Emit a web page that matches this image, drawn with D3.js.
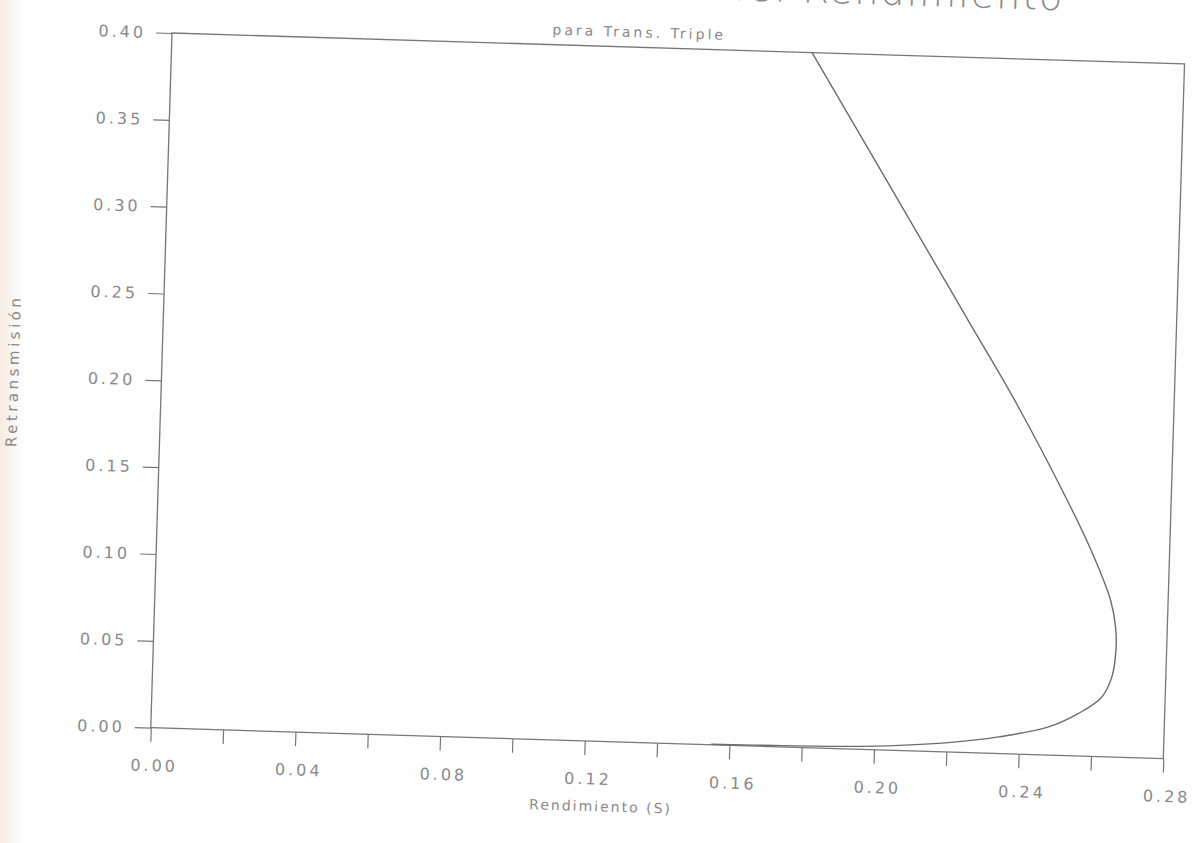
<!DOCTYPE html>
<html>
<head>
<meta charset="utf-8">
<script src="https://cdn.jsdelivr.net/npm/d3@7"></script>
<style>
  html, body { margin: 0; padding: 0; background: #fefefe; }
  svg { display: block; }
  text { font-family: "DejaVu Sans", sans-serif; fill: #8a8a8a; }
</style>
</head>
<body>
<svg id="chart" width="1192" height="843"></svg>
<script>
// Throughput (S) against retransmission rate, triple transmission
const rendimiento = [0.155, 0.175, 0.193, 0.207, 0.222, 0.2343, 0.248, 0.2562, 0.2625, 0.2651,
                     0.2660, 0.2657, 0.2641, 0.2583, 0.2508, 0.2359, 0.2223, 0.2088, 0.177];
const retransmision = [0.0003, 0.0008, 0.0015, 0.003, 0.0058, 0.0096, 0.0162, 0.0245, 0.0344, 0.0461,
                       0.0616, 0.0749, 0.0902, 0.1186, 0.1488, 0.2036, 0.249, 0.294, 0.400];

const xTicks = [0, 0.02, 0.04, 0.06, 0.08, 0.10, 0.12, 0.14, 0.16, 0.18, 0.20, 0.22, 0.24, 0.26, 0.28];
const xLabelled = [0, 0.04, 0.08, 0.12, 0.16, 0.20, 0.24, 0.28];
const yTicks = [0, 0.05, 0.10, 0.15, 0.20, 0.25, 0.30, 0.35, 0.40];

const titulo = "Retransmisión vs. Rendimiento";
const subtitulo = "para Trans. Triple";
const tituloX = "Rendimiento (S)";
const tituloY = "Retransmisión";

const W = 1013, H = 695;
const svg = d3.select("#chart");

// warm edge of the sheet
const defs = svg.append("defs");
const grad = defs.append("linearGradient").attr("id", "edge");
grad.append("stop").attr("offset", "0%").attr("stop-color", "#f6ece2");
grad.append("stop").attr("offset", "100%").attr("stop-color", "#fefefe");
svg.append("rect").attr("width", 1192).attr("height", 843).attr("fill", "#fefefe");
svg.append("rect").attr("width", 24).attr("height", 843).attr("fill", "url(#edge)");

// the whole sheet sits slightly turned
const g = svg.append("g").attr("transform", "translate(172,33) rotate(1.75)");

const x = d3.scaleLinear().domain([0, 0.28]).range([0, W]);
const y = d3.scaleLinear().domain([0, 0.40]).range([H, 0]);

const fmt = d3.format(".2f");

// x axis
const ax = g.append("g").attr("transform", `translate(0,${H})`)
  .call(d3.axisBottom(x).tickValues(xTicks).tickSize(14)
    .tickFormat(d => xLabelled.some(v => Math.abs(v - d) < 1e-9) ? fmt(d) : ""));
ax.select(".domain").remove();
ax.selectAll(".tick line").attr("stroke", "#777").attr("stroke-width", 1.2);
ax.selectAll(".tick text").attr("y", 32).attr("dy", "0.71em")
  .style("font-size", "16px").style("letter-spacing", "3px").attr("dx", "4px");

// y axis
const ay = g.append("g")
  .call(d3.axisLeft(y).tickValues(yTicks).tickSize(16).tickPadding(10).tickFormat(fmt));
ay.select(".domain").remove();
ay.selectAll(".tick line").attr("stroke", "#777").attr("stroke-width", 1.2);
ay.selectAll(".tick text").style("font-size", "16px").style("letter-spacing", "3px");

// plot frame
g.append("rect").attr("x", 0).attr("y", 0).attr("width", W).attr("height", H)
  .attr("fill", "none").attr("stroke", "#777").attr("stroke-width", 1.3);

// curve
const pts = rendimiento.map((r, i) => [r, retransmision[i]]);
g.append("path").datum(pts)
  .attr("fill", "none").attr("stroke", "#6c6c6c").attr("stroke-width", 1.4)
  .attr("d", d3.line().x(d => x(d[0])).y(d => y(d[1])).curve(d3.curveCatmullRom.alpha(0.5)));

// titles
g.append("text").attr("x", 891).attr("y", -50).attr("text-anchor", "end")
  .style("font-size", "38px").style("font-weight", "300").style("letter-spacing", "2px")
  .text(titulo);
g.append("text").attr("x", 467).attr("y", -10).attr("text-anchor", "middle")
  .style("font-size", "14px").style("letter-spacing", "3px").text(subtitulo);
g.append("text").attr("x", 452).attr("y", H + 70).attr("text-anchor", "middle")
  .style("font-size", "14px").style("letter-spacing", "2px").text(tituloX);
g.append("text").attr("transform", `translate(-143,${H / 2 - 5}) rotate(-90)`)
  .attr("text-anchor", "middle")
  .style("font-size", "15px").style("letter-spacing", "3.5px").text(tituloY);
</script>
</body>
</html>
